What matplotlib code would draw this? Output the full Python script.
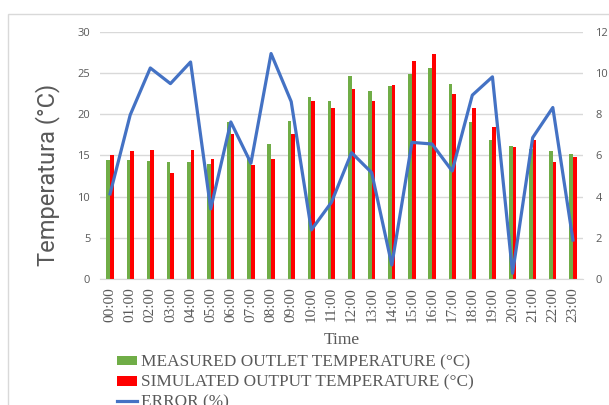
import numpy as np
import matplotlib.pyplot as plt
from matplotlib.patches import Rectangle

hours = [f"{h:02d}:00" for h in range(24)]
measured = [14.4, 14.4, 14.3, 14.25, 14.15, 14.0, 19.1, 14.6, 16.4, 19.2, 22.1, 21.55,
            24.6, 22.8, 23.4, 24.9, 25.6, 23.65, 19.1, 16.9, 16.1, 15.8, 15.5, 15.2]
simulated = [15.0, 15.5, 15.7, 12.85, 15.65, 14.5, 17.6, 13.8, 14.5, 17.6, 21.6, 20.7,
             23.1, 21.6, 23.5, 26.4, 27.3, 22.4, 20.7, 18.4, 16.0, 16.9, 14.2, 14.8]
error = [4.13, 7.96, 10.24, 9.48, 10.53, 3.4, 7.62, 5.62, 10.94, 8.61, 2.38, 3.72,
         6.13, 5.16, 0.68, 6.63, 6.55, 5.24, 8.92, 9.81, 0.28, 6.86, 8.32, 1.89]

W, H = 609, 405
fig = plt.figure(figsize=(W / 100, H / 100), dpi=100)

# outer chart frame (runs off the right / bottom edge)
fig.patches.append(Rectangle((8 / W, -0.1), 1.2, 1.1 - 13.5 / H,
                             transform=fig.transFigure, fill=False,
                             edgecolor="#d9d9d9", lw=1.0))

ax = fig.add_axes([100 / W, 1 - 279 / H, 483 / W, (279 - 31.7) / H])
ax2 = ax.twinx()

x = np.arange(len(hours))
bw = 0.18
ax.bar(x - bw / 2, measured, bw, color="#70ad47", label="MEASURED OUTLET TEMPERATURE (°C)", zorder=2)
ax.bar(x + bw / 2, simulated, bw, color="#ff0000", label="SIMULATED OUTPUT TEMPERATURE (°C)", zorder=2)
ax2.plot(x, error, color="#4472c4", lw=2.3, label="ERROR (%)", zorder=3)

ax.set_xlim(-0.5, 23.5)
ax.set_ylim(0, 30)
ax2.set_ylim(0, 12)
ax.set_yticks(range(0, 31, 5))
ax2.set_yticks(range(0, 13, 2))
ax.yaxis.grid(True, color="#d9d9d9", lw=1, zorder=0)
ax.set_axisbelow(True)

for a in (ax, ax2):
    for s in a.spines.values():
        s.set_visible(False)
    a.tick_params(length=0, colors="#595959", labelsize=8)
ax.spines["bottom"].set_visible(True)
ax.spines["bottom"].set_color("#d9d9d9")

ax.tick_params(axis="y", pad=7)
ax2.tick_params(axis="y", pad=9)
for lbl in ax.get_yticklabels() + ax2.get_yticklabels():
    lbl.set_fontfamily("Open Sans")

ax.set_xticks(x)
ax.set_xticklabels(hours, rotation=90, fontfamily="Liberation Serif", fontsize=11, color="#595959")
ax.tick_params(axis="x", pad=6)

ax.set_xlabel("Time", fontfamily="Liberation Serif", fontsize=12.5, color="#595959", labelpad=7)
ax.set_ylabel("Temperatura (°C)", fontfamily="Roboto", fontsize=17, color="#595959")
ax.yaxis.set_label_coords(-0.083, 0.42)

handles = ax.get_legend_handles_labels()[0] + ax2.get_legend_handles_labels()[0]
labels = [h.get_label() for h in handles]
fig.legend(handles, labels, loc="upper left", bbox_to_anchor=(108 / W, 1 - 346 / H),
           frameon=False, prop={"family": "Liberation Serif", "size": 12.4},
           labelcolor="#595959", handlelength=1.2, handleheight=0.5,
           handletextpad=0.2, labelspacing=0.24, borderpad=0)

fig.savefig("out.png", dpi=100)
